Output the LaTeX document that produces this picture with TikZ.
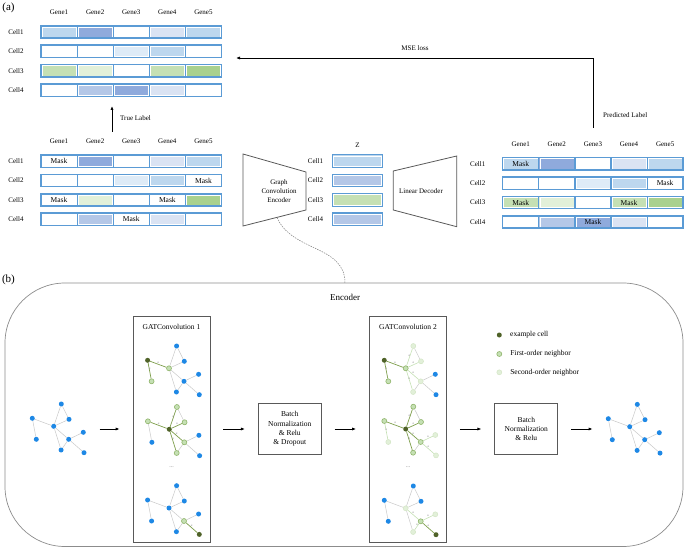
\documentclass[tikz,border=0pt]{standalone}
\usepackage{fontspec}
\setmainfont{Liberation Serif}
\usetikzlibrary{arrows.meta,backgrounds,decorations.markings,positioning}

\definecolor{tblue}{HTML}{5B9BD5}
\definecolor{bA}{HTML}{BDD7EE}
\definecolor{bB}{HTML}{8FAADC}
\definecolor{bC}{HTML}{DAE3F3}
\definecolor{bD}{HTML}{DEEBF7}
\definecolor{bE}{HTML}{B4C7E7}
\definecolor{gA}{HTML}{C5E0B4}
\definecolor{gB}{HTML}{E2F0D9}
\definecolor{gC}{HTML}{A9D18E}
\definecolor{dotblue}{HTML}{1E88E5}
\definecolor{exgreen}{HTML}{4F6228}
\definecolor{fstline}{HTML}{8FB46A}
\definecolor{sndline}{HTML}{D3E5C5}
\definecolor{attgreen}{HTML}{7E9E4C}
\definecolor{edgegray}{HTML}{C8C8C8}
\definecolor{boxgray}{HTML}{595959}
\definecolor{framegray}{HTML}{8C8C8C}

\tikzset{
  tag/.style={font=\fontsize{11}{12}\selectfont, inner sep=0pt},
  lbl/.style={font=\fontsize{7}{8}\selectfont, inner sep=0pt},
  masklbl/.style={font=\fontsize{7.5}{8}\selectfont, inner sep=0pt},
  arrlbl/.style={font=\fontsize{7}{8}\selectfont, inner sep=0pt},
  midlbl/.style={font=\fontsize{7}{9.3}\selectfont, align=center, inner sep=0pt},
  genecell/.style={draw=tblue, line width=1.2pt, minimum width=36.1pt,
    minimum height=12.3pt, inner sep=0pt, outer sep=0pt},
  zcell/.style={genecell, minimum width=50.4pt},
  cellinset/.style={draw=white, line width=0.5pt},
  rowframe/.style={draw=tblue, line width=1.5pt},
  trap/.style={draw=boxgray, line width=0.8pt},
  flow/.style={-{Latex[length=4pt,width=3.2pt]}, line width=0.8pt},
  gap/.style={shorten <=13pt, shorten >=13pt},
  link/.style={draw=gray, line width=0.5pt, dash pattern=on 1.5pt off 1pt},
  encframe/.style={draw=framegray, line width=0.7pt, rounded corners=60pt},
  enclbl/.style={font=\fontsize{9}{10}\selectfont, inner sep=0pt},
  gatbox/.style={draw=boxgray, line width=0.8pt, minimum width=77pt, minimum height=226pt},
  gattitle/.style={font=\fontsize{7.5}{8}\selectfont, inner sep=0pt},
  bnbox/.style={draw=boxgray, line width=0.8pt, minimum width=63pt, minimum height=51.7pt,
    align=center, font=\fontsize{7.5}{9.3}\selectfont},
  leglbl/.style={font=\fontsize{7.5}{8}\selectfont, inner sep=0pt},
  dots/.style={font=\fontsize{6}{6}\selectfont, text=gray, inner sep=0pt},
  gnode/.style={circle, inner sep=0pt, minimum size=5pt},
  bluecell/.style={gnode, fill=dotblue},
  excell/.style={gnode, fill=exgreen},
  fstcell/.style={gnode, fill=gA, draw=fstline, line width=0.6pt},
  sndcell/.style={gnode, fill=gB, draw=sndline, line width=0.5pt},
  attlbl/.style={font=\fontsize{3}{3}\selectfont, text=gray, inner sep=0.3pt, yshift=1.8pt},
  gedge/.style={draw=edgegray, line width=0.5pt},
  attone/.style={draw=attgreen, line width=0.7pt, postaction=decorate,
    decoration={markings, mark=at position 0.5 with {\node[attlbl] (alpha) {α};}}},
  atttwo/.style={draw=gA, line width=0.6pt, postaction=decorate,
    decoration={markings, mark=at position 0.5 with {\node[attlbl] (alpha) {α};}}},
  stA/.style=bluecell, stB/.style=bluecell, stC/.style=bluecell,
  stD/.style=bluecell, stE/.style=bluecell, stF/.style=bluecell,
  stG/.style=bluecell, stH/.style=bluecell, stI/.style=bluecell,
  eAC/.style=gedge, eAD/.style=gedge, eDC/.style=gedge, eBC/.style=gedge,
  eBE/.style=gedge, eCF/.style=gedge, eCH/.style=gedge, eFG/.style=gedge,
  eFH/.style=gedge, eFI/.style=gedge
}

% expression table: prefix, row-1 centre on the left edge, fills per row
\newcommand{\genetable}[3]{%
  \begin{scope}[shift={#2}]
    \foreach \g in {1,...,5}
      \node[lbl] (#1-g\g) at ({(\g-0.5)*36.1},-19.5) {Gene\g};
    \foreach \fills [count=\r] in {#3} {
      \node[lbl] (#1-c\r) at (-25,{(\r-1)*19.4}) {Cell\r};
      \foreach \f [count=\g] in \fills {
        \node[genecell, fill=\f] (#1-\r-\g) at ({(\g-0.5)*36.1},{(\r-1)*19.4}) {};
        \draw[cellinset] ([shift={(1,1)}]#1-\r-\g.north west)
          rectangle ([shift={(-1,-1)}]#1-\r-\g.south east);
      }
      \draw[rowframe] (#1-\r-1.north west) rectangle (#1-\r-5.south east);
    }
  \end{scope}}

% small cell graph: options, prefix, centre node
\newcommand{\cellgraph}[3][]{%
  \begin{scope}[shift={#3},#1]
    \foreach \nd/\nx/\ny in {A/7.6/-22.3,B/-21.4/-8,C/0/0,D/15.3/-7,E/-17.4/13,
        F/15/13,G/29.6/6,H/7.4/23.7,I/30.3/26.4}
      \node[st\nd] (#2-\nd) at (\nx,\ny) {};
    \begin{scope}[on background layer]
      \foreach \p/\q in {A/C,A/D,D/C,B/C,B/E,C/F,C/H,F/G,F/H,F/I}
        \draw[e\p\q] (#2-\p) -- (#2-\q);
    \end{scope}
  \end{scope}}

\begin{document}
\begin{tikzpicture}[x=1pt,y=-1pt]
\useasboundingbox (0,0) rectangle (685,548);

% (a) masked reconstruction
\node[tag] (taga) at (8.5,7.5) {(a)};
\genetable{tr}{(41,32)}{{bA,bB,white,bC,bA},{white,white,bD,bA,white},
  {gA,gB,white,gA,gC},{white,bE,bB,bC,white}}
\genetable{mk}{(41,161.2)}{{white,bB,white,bC,bA},{white,white,bD,bA,white},
  {white,gB,white,white,gC},{white,bE,white,bC,white}}
\genetable{pr}{(502.7,163.8)}{{bA,bB,white,bC,bA},{white,white,bD,bA,white},
  {gA,gB,white,gA,gC},{white,bE,bB,bC,white}}
\foreach \r/\g in {1/1,2/5,3/1,3/4,4/3} {
  \node[masklbl] (mk-m\r\g) at (mk-\r-\g) {Mask};
  \node[masklbl] (pr-m\r\g) at (pr-\r-\g) {Mask};
}

\node[lbl] (zlbl) at (357.5,145) {Z};
\foreach \f [count=\r] in {bA,bE,gA,bE} {
  \node[zcell, fill=\f] (z-\r) at (357.5,{161+(\r-1)*19.4}) {};
  \draw[cellinset] ([shift={(1,1)}]z-\r.north west)
    rectangle ([shift={(-1,-1)}]z-\r.south east);
  \node[lbl, left=9pt of z-\r] (z-c\r) {Cell\r};
}

\draw[trap] (243,154) -- (306,172) -- (306,210) -- (243,226) -- cycle;
\node[midlbl] (gce) at (279,191) {Graph\\Convolution\\Encoder};
\draw[trap] (393.3,171) -- (456.7,156) -- (456.7,226.7) -- (393.3,210) -- cycle;
\node[midlbl] (lindec) at (421,191) {Linear Decoder};

\coordinate (truefoot) at (112,132);
\coordinate (truehead) at (112,106);
\draw[flow] (truefoot) -- (truehead);
\node[arrlbl, anchor=west] (truelbl) at (120,118) {True Label};

\coordinate (predfoot) at (593.3,128);
\coordinate (mseturn) at (593.3,58);
\coordinate (msehead) at (236,58);
\draw[flow] (predfoot) -- (mseturn) -- (msehead);
\node[arrlbl] (mselbl) at (415,48) {MSE loss};
\node[arrlbl, anchor=west] (predlbl) at (603,115) {Predicted Label};

\coordinate (gcefoot) at (277,217.5);
\coordinate (enctop) at (345,283);
\draw[link] (gcefoot) .. controls (292,252) and (345,245) .. (enctop);

% (b) encoder
\node[tag] (tagb) at (8.5,280) {(b)};
\draw[encframe] (5,283) rectangle (683,546.5);
\node[enclbl] (enclbl) at (345,297) {Encoder};

\node[gatbox] (gat1) at (171.5,429) {};
\node[gattitle] (gat1t) at (171.5,326.7) {GATConvolution 1};
\node[gatbox] (gat2) at (408,429) {};
\node[gattitle] (gat2t) at (408,326.7) {GATConvolution 2};
\node[bnbox] (bn1) at (289.8,429) {Batch\\Normalization\\\& Relu\\\& Dropout};
\node[bnbox] (bn2) at (526.3,429) {Batch\\Normalization\\\& Relu};

\cellgraph{in}{(53.7,426.3)}
\cellgraph{out}{(629.7,426.7)}

\cellgraph[stB/.style=excell, stC/.style=fstcell, stE/.style=fstcell,
  eBC/.style=attone, eBE/.style=attone]{ga1}{(169,368.3)}
\cellgraph[stC/.style=excell, stA/.style=fstcell, stB/.style=fstcell, stD/.style=fstcell,
  stF/.style=fstcell, stH/.style=fstcell, eAC/.style=attone, eBC/.style=attone,
  eDC/.style=attone, eCF/.style=attone, eCH/.style=attone]{ga2}{(169.3,429.3)}
\cellgraph[stI/.style=excell, stF/.style=fstcell, eFI/.style=attone]{ga3}{(169,508)}
\node[dots] (gat1d) at (171.5,467.5) {...};

\cellgraph[stB/.style=excell, stC/.style=fstcell, stE/.style=fstcell,
  stA/.style=sndcell, stD/.style=sndcell, stF/.style=sndcell, stH/.style=sndcell,
  eBC/.style=attone, eBE/.style=attone, eAC/.style=atttwo, eDC/.style=atttwo,
  eCF/.style=atttwo, eCH/.style=atttwo]{gb1}{(405.7,368.3)}
\cellgraph[stC/.style=excell, stA/.style=fstcell, stB/.style=fstcell, stD/.style=fstcell,
  stF/.style=fstcell, stH/.style=fstcell, stE/.style=sndcell, stG/.style=sndcell,
  stI/.style=sndcell, eAC/.style=attone, eBC/.style=attone, eDC/.style=attone,
  eCF/.style=attone, eCH/.style=attone, eBE/.style=atttwo, eFG/.style=atttwo,
  eFI/.style=atttwo]{gb2}{(405.7,429)}
\cellgraph[stI/.style=excell, stF/.style=fstcell, stC/.style=sndcell, stG/.style=sndcell,
  stH/.style=sndcell, eFI/.style=attone, eCF/.style=atttwo, eFG/.style=atttwo,
  eFH/.style=atttwo]{gb3}{(405.7,508.3)}
\node[dots] (gat2d) at (408,467.5) {...};

\draw[flow, gap] (in-I.east |- gat1.west) -- (gat1.west);
\draw[flow, gap] (gat1.east) -- (gat1.east -| bn1.west);
\draw[flow, gap] (bn1.east) -- (bn1.east -| gat2.west);
\draw[flow, gap] (gat2.east) -- (gat2.east -| bn2.west);
\draw[flow, gap] (bn2.east) -- (bn2.east -| out-B.west);

% legend
\node[excell] (lg1) at (499.3,335) {};
\node[fstcell] (lg2) at (499.3,354) {};
\node[sndcell] (lg3) at (499.3,372.3) {};
\node[leglbl, right=8pt of lg1] (lg1t) {example cell};
\node[leglbl, right=8pt of lg2] (lg2t) {First-order neighbor};
\node[leglbl, right=8pt of lg3] (lg3t) {Second-order neighbor};
\end{tikzpicture}
\end{document}
